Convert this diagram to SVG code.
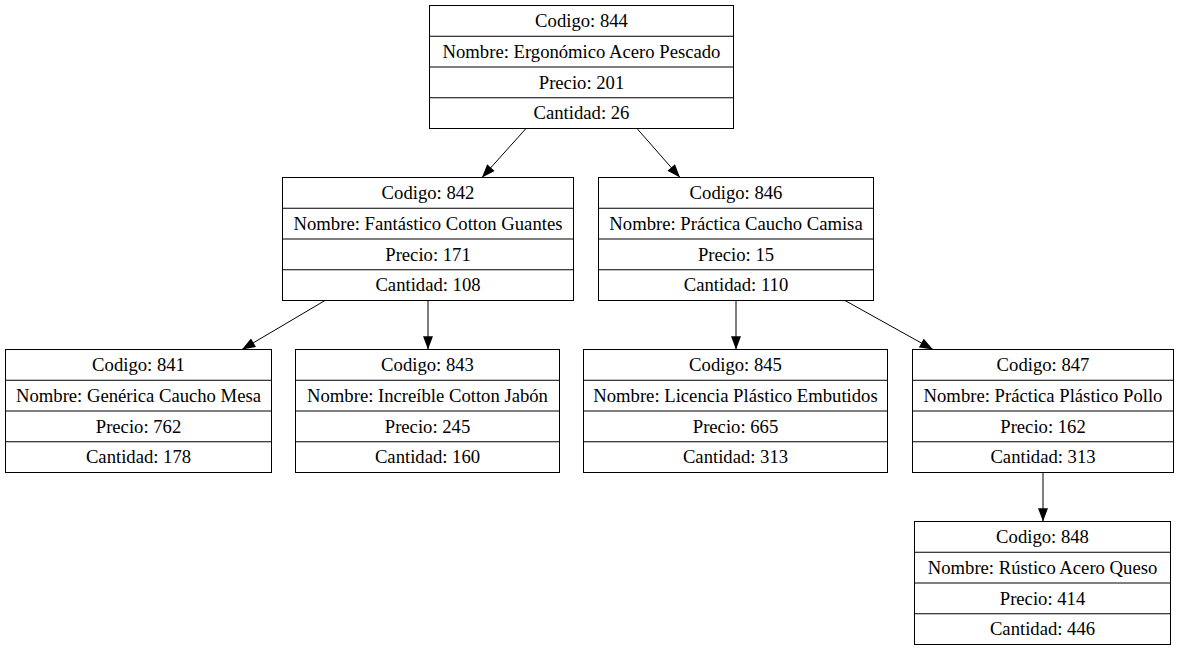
<svg xmlns="http://www.w3.org/2000/svg" width="1178" height="651" viewBox="0 0 1178 651">
<style>
.box{fill:#fff;stroke:#000;stroke-width:1}
.sep{stroke:#000;stroke-width:1}
.t{font-family:"Liberation Serif","Times New Roman",serif;font-size:18.67px;text-anchor:middle;fill:#000}
.edge{stroke:#000;stroke-width:1;fill:none;marker-end:url(#ah)}
</style>
<defs>
<marker id="ah" markerUnits="userSpaceOnUse" markerWidth="14" markerHeight="10" refX="12" refY="4.5" orient="auto" viewBox="0 0 12 9">
<path d="M0,0 L12,4.5 L0,9 z" fill="#000"/>
</marker>
</defs>
<rect width="1178" height="651" fill="#fff"/>
<g id="connectors">
<line class="edge" x1="526" y1="128.5" x2="482" y2="177.5"/>
<line class="edge" x1="637" y1="128.5" x2="680" y2="177.5"/>
<line class="edge" x1="325" y1="300.5" x2="242" y2="349.5"/>
<line class="edge" x1="428" y1="300.5" x2="428" y2="349.5"/>
<line class="edge" x1="736" y1="300.5" x2="736" y2="349.5"/>
<line class="edge" x1="845" y1="300.5" x2="933" y2="349.5"/>
<line class="edge" x1="1043" y1="472.5" x2="1043" y2="521.5"/>
</g>
<g id="n844" transform="translate(429.5,5.5)">
<rect class="box" width="304" height="123"/>
<line class="sep" x1="0" y1="30.75" x2="304" y2="30.75"/><line class="sep" x1="0" y1="61.5" x2="304" y2="61.5"/><line class="sep" x1="0" y1="92.25" x2="304" y2="92.25"/>
<text class="t" x="152" y="21.5">Codigo: 844</text>
<text class="t" x="152" y="52.25">Nombre: Ergonómico Acero Pescado</text>
<text class="t" x="152" y="83">Precio: 201</text>
<text class="t" x="152" y="113.75">Cantidad: 26</text>
</g>
<g id="n842" transform="translate(282.5,177.5)">
<rect class="box" width="291" height="123"/>
<line class="sep" x1="0" y1="30.75" x2="291" y2="30.75"/><line class="sep" x1="0" y1="61.5" x2="291" y2="61.5"/><line class="sep" x1="0" y1="92.25" x2="291" y2="92.25"/>
<text class="t" x="145.5" y="21.5">Codigo: 842</text>
<text class="t" x="145.5" y="52.25">Nombre: Fantástico Cotton Guantes</text>
<text class="t" x="145.5" y="83">Precio: 171</text>
<text class="t" x="145.5" y="113.75">Cantidad: 108</text>
</g>
<g id="n846" transform="translate(598.5,177.5)">
<rect class="box" width="275" height="123"/>
<line class="sep" x1="0" y1="30.75" x2="275" y2="30.75"/><line class="sep" x1="0" y1="61.5" x2="275" y2="61.5"/><line class="sep" x1="0" y1="92.25" x2="275" y2="92.25"/>
<text class="t" x="137.5" y="21.5">Codigo: 846</text>
<text class="t" x="137.5" y="52.25">Nombre: Práctica Caucho Camisa</text>
<text class="t" x="137.5" y="83">Precio: 15</text>
<text class="t" x="137.5" y="113.75">Cantidad: 110</text>
</g>
<g id="n841" transform="translate(5.5,349.5)">
<rect class="box" width="266" height="123"/>
<line class="sep" x1="0" y1="30.75" x2="266" y2="30.75"/><line class="sep" x1="0" y1="61.5" x2="266" y2="61.5"/><line class="sep" x1="0" y1="92.25" x2="266" y2="92.25"/>
<text class="t" x="133" y="21.5">Codigo: 841</text>
<text class="t" x="133" y="52.25">Nombre: Genérica Caucho Mesa</text>
<text class="t" x="133" y="83">Precio: 762</text>
<text class="t" x="133" y="113.75">Cantidad: 178</text>
</g>
<g id="n843" transform="translate(295.5,349.5)">
<rect class="box" width="264" height="123"/>
<line class="sep" x1="0" y1="30.75" x2="264" y2="30.75"/><line class="sep" x1="0" y1="61.5" x2="264" y2="61.5"/><line class="sep" x1="0" y1="92.25" x2="264" y2="92.25"/>
<text class="t" x="132" y="21.5">Codigo: 843</text>
<text class="t" x="132" y="52.25">Nombre: Increíble Cotton Jabón</text>
<text class="t" x="132" y="83">Precio: 245</text>
<text class="t" x="132" y="113.75">Cantidad: 160</text>
</g>
<g id="n845" transform="translate(583.5,349.5)">
<rect class="box" width="304" height="123"/>
<line class="sep" x1="0" y1="30.75" x2="304" y2="30.75"/><line class="sep" x1="0" y1="61.5" x2="304" y2="61.5"/><line class="sep" x1="0" y1="92.25" x2="304" y2="92.25"/>
<text class="t" x="152" y="21.5">Codigo: 845</text>
<text class="t" x="152" y="52.25">Nombre: Licencia Plástico Embutidos</text>
<text class="t" x="152" y="83">Precio: 665</text>
<text class="t" x="152" y="113.75">Cantidad: 313</text>
</g>
<g id="n847" transform="translate(912.5,349.5)">
<rect class="box" width="261" height="123"/>
<line class="sep" x1="0" y1="30.75" x2="261" y2="30.75"/><line class="sep" x1="0" y1="61.5" x2="261" y2="61.5"/><line class="sep" x1="0" y1="92.25" x2="261" y2="92.25"/>
<text class="t" x="130.5" y="21.5">Codigo: 847</text>
<text class="t" x="130.5" y="52.25">Nombre: Práctica Plástico Pollo</text>
<text class="t" x="130.5" y="83">Precio: 162</text>
<text class="t" x="130.5" y="113.75">Cantidad: 313</text>
</g>
<g id="n848" transform="translate(914.5,521.5)">
<rect class="box" width="256" height="123"/>
<line class="sep" x1="0" y1="30.75" x2="256" y2="30.75"/><line class="sep" x1="0" y1="61.5" x2="256" y2="61.5"/><line class="sep" x1="0" y1="92.25" x2="256" y2="92.25"/>
<text class="t" x="128" y="21.5">Codigo: 848</text>
<text class="t" x="128" y="52.25">Nombre: Rústico Acero Queso</text>
<text class="t" x="128" y="83">Precio: 414</text>
<text class="t" x="128" y="113.75">Cantidad: 446</text>
</g>
</svg>
